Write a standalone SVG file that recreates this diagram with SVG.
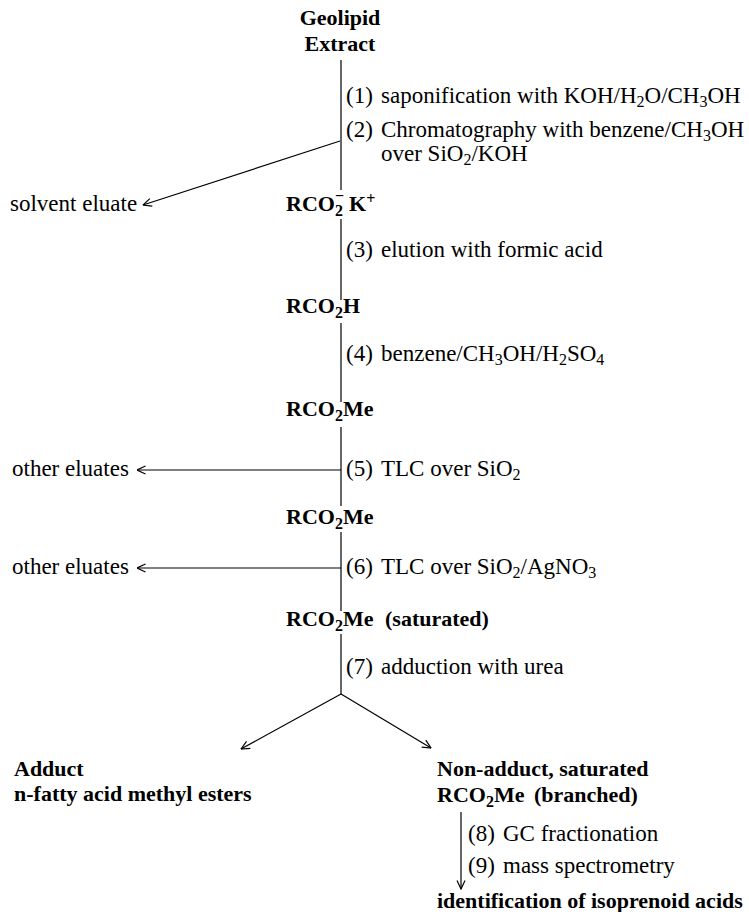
<svg xmlns="http://www.w3.org/2000/svg" width="749" height="912" viewBox="0 0 749 912">
  <defs>
    <style>
      .t { font-family: "Liberation Serif", "Times New Roman", serif; font-size: 23px; fill: #000; }
      .b { font-weight: bold; font-size: 22px; }
      .sub { font-size: 16px; }
      .c { stroke: #000; stroke-width: 1.2; fill: none; }
    </style>
    <!-- open chevron arrowhead -->
    <marker id="arr" viewBox="0 0 10 10" refX="9.5" refY="5" markerWidth="10" markerHeight="10" markerUnits="userSpaceOnUse" orient="auto">
      <path d="M1,1 L9.5,5 L1,9" fill="none" stroke="#000" stroke-width="1.2"/>
    </marker>
  </defs>
  <rect width="749" height="912" fill="#fff"/>

  <!-- connectors -->
  <g id="connectors" class="c">
    <path d="M341,60 V190"/>
    <path d="M340,141 L143,205" marker-end="url(#arr)"/>
    <path d="M341,219 V300"/>
    <path d="M341,323 V402"/>
    <path d="M341,427 V506"/>
    <path d="M341,470 H137" marker-end="url(#arr)"/>
    <path d="M341,532 V611"/>
    <path d="M341,568 H137" marker-end="url(#arr)"/>
    <path d="M341,634 V694"/>
    <path d="M341,694 L241,749" marker-end="url(#arr)"/>
    <path d="M341,694 L431,748" marker-end="url(#arr)"/>
    <path d="M461,812 V889" marker-end="url(#arr)"/>
  </g>

  <!-- nodes -->
  <g id="geolipid-extract" class="t b" text-anchor="middle">
    <text x="340" y="25">Geolipid</text>
    <text x="340" y="51">Extract</text>
  </g>

  <g id="step1" class="t">
    <text x="346" y="103">(1)</text>
    <text x="381" y="103">saponification with KOH/H<tspan class="sub" dy="4">2</tspan><tspan dy="-4">O/CH</tspan><tspan class="sub" dy="4">3</tspan><tspan dy="-4">OH</tspan></text>
  </g>

  <g id="step2" class="t">
    <text x="346" y="137">(2)</text>
    <text x="381" y="137">Chromatography with benzene/CH<tspan class="sub" dy="4">3</tspan><tspan dy="-4">OH</tspan></text>
    <text x="381" y="161">over SiO<tspan class="sub" dy="4">2</tspan><tspan dy="-4">/KOH</tspan></text>
  </g>

  <g id="solvent-eluate" class="t">
    <text x="10" y="211">solvent eluate</text>
  </g>

  <!-- carboxylate: subscript 2 with the charge stacked above it -->
  <g id="carboxylate" class="t b">
    <text x="286" y="211">RCO<tspan class="sub" dy="5">2</tspan><tspan class="sub" dx="-8" dy="-15">−</tspan><tspan dx="5" dy="10">K</tspan><tspan class="sub" dy="-7">+</tspan></text>
  </g>

  <g id="step3" class="t">
    <text x="346" y="257">(3)</text>
    <text x="381" y="257">elution with formic acid</text>
  </g>

  <g id="acid" class="t b">
    <text x="286" y="313">RCO<tspan class="sub" dy="5">2</tspan><tspan dy="-5">H</tspan></text>
  </g>

  <g id="step4" class="t">
    <text x="346" y="361">(4)</text>
    <text x="381" y="361">benzene/CH<tspan class="sub" dy="4">3</tspan><tspan dy="-4">OH/H</tspan><tspan class="sub" dy="4">2</tspan><tspan dy="-4">SO</tspan><tspan class="sub" dy="4">4</tspan></text>
  </g>

  <g id="ester1" class="t b">
    <text x="286" y="416">RCO<tspan class="sub" dy="5">2</tspan><tspan dy="-5">Me</tspan></text>
  </g>

  <g id="step5" class="t">
    <text x="346" y="476">(5)</text>
    <text x="381" y="476">TLC over SiO<tspan class="sub" dy="4">2</tspan></text>
  </g>

  <g id="other-eluates-1" class="t">
    <text x="12" y="476">other eluates</text>
  </g>

  <g id="ester2" class="t b">
    <text x="286" y="524">RCO<tspan class="sub" dy="5">2</tspan><tspan dy="-5">Me</tspan></text>
  </g>

  <g id="step6" class="t">
    <text x="346" y="574">(6)</text>
    <text x="381" y="574">TLC over SiO<tspan class="sub" dy="4">2</tspan><tspan dy="-4">/AgNO</tspan><tspan class="sub" dy="4">3</tspan></text>
  </g>

  <g id="other-eluates-2" class="t">
    <text x="12" y="574">other eluates</text>
  </g>

  <g id="ester-saturated" class="t b">
    <text x="286" y="626">RCO<tspan class="sub" dy="5">2</tspan><tspan dy="-5">Me</tspan></text>
    <text x="385" y="626">(saturated)</text>
  </g>

  <g id="step7" class="t">
    <text x="346" y="674">(7)</text>
    <text x="381" y="674">adduction with urea</text>
  </g>

  <g id="adduct" class="t b">
    <text x="14" y="776">Adduct</text>
    <text x="14" y="801">n-fatty acid methyl esters</text>
  </g>

  <g id="non-adduct" class="t b">
    <text x="437" y="776">Non-adduct, saturated</text>
    <text x="437" y="802">RCO<tspan class="sub" dy="5">2</tspan><tspan dy="-5">Me</tspan></text>
    <text x="534" y="802">(branched)</text>
  </g>

  <g id="step8" class="t">
    <text x="468" y="841">(8)</text>
    <text x="503" y="841">GC fractionation</text>
  </g>

  <g id="step9" class="t">
    <text x="468" y="873">(9)</text>
    <text x="503" y="873">mass spectrometry</text>
  </g>

  <g id="isoprenoid-acids" class="t b">
    <text x="437" y="908">identification of isoprenoid acids</text>
  </g>
</svg>
